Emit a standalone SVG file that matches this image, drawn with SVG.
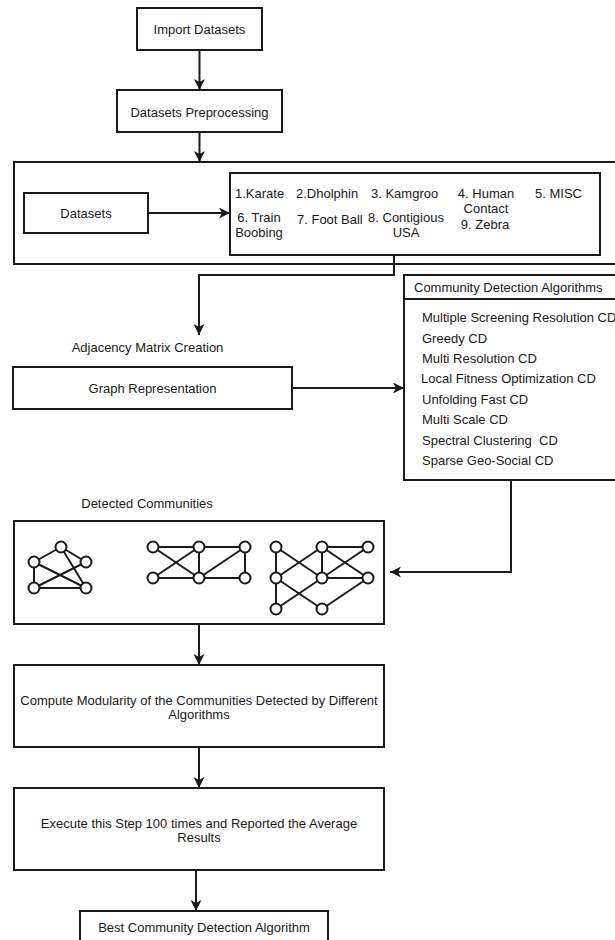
<svg xmlns="http://www.w3.org/2000/svg" width="615" height="940" viewBox="0 0 615 940">
<defs>
<style>
.box{fill:#fff;stroke:#1a1a1a;stroke-width:2}
.t{font-family:"Liberation Sans",Arial,sans-serif;font-size:13px;fill:#1a1a1a;dominant-baseline:central}
.c{text-anchor:middle}
.ln{fill:none;stroke:#1a1a1a;stroke-width:2}
.e{stroke:#1a1a1a;stroke-width:2}
.n{fill:#fff;stroke:#1a1a1a;stroke-width:2}
</style>
<marker id="ah" markerUnits="userSpaceOnUse" markerWidth="12" markerHeight="12" refX="11" refY="5.5" orient="auto">
<path d="M0,0 L11,5.5 L0,11 L3,5.5 z" fill="#1a1a1a"/>
</marker>
</defs>
<rect width="615" height="940" fill="#fff"/>

<g id="import">
<rect class="box" x="137" y="8" width="125" height="42"/>
<text class="t c" x="199.5" y="29">Import Datasets</text>
</g>
<g id="preprocessing">
<rect class="box" x="117" y="90" width="165" height="42"/>
<text class="t c" x="199.5" y="112">Datasets Preprocessing</text>
</g>
<g id="datasets-container">
<rect class="box" x="14" y="162" width="612" height="102"/>
</g>
<g id="datasets">
<rect class="box" x="24" y="193" width="124" height="40"/>
<text class="t c" x="86" y="213">Datasets</text>
</g>
<g id="dataset-list">
<rect class="box" x="230" y="173" width="370" height="82"/>
<text class="t" x="235" y="193">1.Karate</text>
<text class="t" x="296" y="193">2.Dholphin</text>
<text class="t" x="371" y="193">3. Kamgroo</text>
<text class="t c" x="486" y="193">4. Human</text>
<text class="t c" x="486" y="208">Contact</text>
<text class="t" x="535" y="193">5. MISC</text>
<text class="t c" x="259" y="217">6. Train</text>
<text class="t c" x="259" y="232">Boobing</text>
<text class="t" x="297" y="219">7. Foot Ball</text>
<text class="t c" x="406" y="217">8. Contigious</text>
<text class="t c" x="406" y="232">USA</text>
<text class="t c" x="485" y="224">9. Zebra</text>
</g>
<g id="adjacency-label">
<text class="t c" x="147.5" y="347">Adjacency Matrix Creation</text>
</g>
<g id="graph-representation">
<rect class="box" x="13" y="367" width="279" height="42"/>
<text class="t c" x="152.5" y="388">Graph Representation</text>
</g>
<g id="algorithms">
<rect class="box" x="404" y="275" width="225" height="205"/>
<line class="e" x1="404" y1="299" x2="629" y2="299"/>
<text class="t" x="414" y="287">Community Detection Algorithms</text>
<text class="t" x="422" y="317">Multiple Screening Resolution CD</text>
<text class="t" x="422" y="338">Greedy CD</text>
<text class="t" x="422" y="358">Multi Resolution CD</text>
<text class="t" x="421" y="378">Local Fitness Optimization CD</text>
<text class="t" x="422" y="399">Unfolding Fast CD</text>
<text class="t" x="422" y="419">Multi Scale CD</text>
<text class="t" x="422" y="440">Spectral Clustering&#160; CD</text>
<text class="t" x="422" y="460">Sparse Geo-Social CD</text>
</g>
<g id="detected-label">
<text class="t c" x="147" y="503">Detected Communities</text>
</g>
<g id="detected-communities">
<rect class="box" x="14" y="521" width="370" height="103"/>
<g id="graph1">
<line class="e" x1="61" y1="547" x2="34" y2="562"/>
<line class="e" x1="61" y1="547" x2="86" y2="562"/>
<line class="e" x1="61" y1="547" x2="86" y2="588"/>
<line class="e" x1="34" y1="562" x2="34" y2="588"/>
<line class="e" x1="34" y1="562" x2="86" y2="588"/>
<line class="e" x1="86" y1="562" x2="34" y2="588"/>
<line class="e" x1="34" y1="588" x2="86" y2="588"/>
<circle class="n" cx="61" cy="547" r="5.5"/>
<circle class="n" cx="34" cy="562" r="5.5"/>
<circle class="n" cx="86" cy="562" r="5.5"/>
<circle class="n" cx="34" cy="588" r="5.5"/>
<circle class="n" cx="86" cy="588" r="5.5"/>
</g>
<g id="graph2">
<line class="e" x1="153" y1="547" x2="245" y2="547"/>
<line class="e" x1="153" y1="578" x2="245" y2="578"/>
<line class="e" x1="153" y1="547" x2="199" y2="578"/>
<line class="e" x1="153" y1="578" x2="199" y2="547"/>
<line class="e" x1="199" y1="547" x2="199" y2="578"/>
<line class="e" x1="199" y1="578" x2="245" y2="547"/>
<line class="e" x1="245" y1="547" x2="245" y2="578"/>
<circle class="n" cx="153" cy="547" r="5.5"/>
<circle class="n" cx="199" cy="547" r="5.5"/>
<circle class="n" cx="245" cy="547" r="5.5"/>
<circle class="n" cx="153" cy="578" r="5.5"/>
<circle class="n" cx="199" cy="578" r="5.5"/>
<circle class="n" cx="245" cy="578" r="5.5"/>
</g>
<g id="graph3">
<line class="e" x1="276" y1="547" x2="276" y2="609"/>
<line class="e" x1="276" y1="547" x2="322" y2="578"/>
<line class="e" x1="276" y1="578" x2="322" y2="547"/>
<line class="e" x1="322" y1="547" x2="368" y2="547"/>
<line class="e" x1="322" y1="547" x2="322" y2="578"/>
<line class="e" x1="322" y1="547" x2="368" y2="578"/>
<line class="e" x1="322" y1="578" x2="368" y2="547"/>
<line class="e" x1="322" y1="578" x2="368" y2="578"/>
<line class="e" x1="276" y1="578" x2="322" y2="609"/>
<line class="e" x1="276" y1="609" x2="322" y2="578"/>
<line class="e" x1="322" y1="609" x2="368" y2="578"/>
<circle class="n" cx="276" cy="547" r="5.5"/>
<circle class="n" cx="322" cy="547" r="5.5"/>
<circle class="n" cx="368" cy="547" r="5.5"/>
<circle class="n" cx="276" cy="578" r="5.5"/>
<circle class="n" cx="322" cy="578" r="5.5"/>
<circle class="n" cx="368" cy="578" r="5.5"/>
<circle class="n" cx="276" cy="609" r="5.5"/>
<circle class="n" cx="322" cy="609" r="5.5"/>
</g>
</g>
<g id="compute">
<rect class="box" x="14" y="665" width="370" height="82"/>
<text class="t c" x="199" y="700">Compute Modularity of the Communities Detected by Different</text>
<text class="t c" x="199" y="714">Algorithms</text>
</g>
<g id="execute">
<rect class="box" x="14" y="788" width="370" height="82"/>
<text class="t c" x="199" y="823">Execute this Step 100 times and Reported the Average</text>
<text class="t c" x="199" y="837">Results</text>
</g>
<g id="best">
<rect class="box" x="80" y="911" width="248" height="40"/>
<text class="t c" x="204" y="927">Best Community Detection Algorithm</text>
</g>

<g id="connectors">
<line class="ln" x1="199.5" y1="50" x2="199.5" y2="90" marker-end="url(#ah)"/>
<line class="ln" x1="199.5" y1="132" x2="199.5" y2="162" marker-end="url(#ah)"/>
<line class="ln" x1="148" y1="213" x2="230" y2="213" marker-end="url(#ah)"/>
<path class="ln" d="M394,255 V275 H199 V335" marker-end="url(#ah)"/>
<line class="ln" x1="292" y1="388" x2="404" y2="388" marker-end="url(#ah)"/>
<path class="ln" d="M511,480 V572 H390" marker-end="url(#ah)"/>
<line class="ln" x1="199" y1="624" x2="199" y2="665" marker-end="url(#ah)"/>
<line class="ln" x1="199" y1="747" x2="199" y2="788" marker-end="url(#ah)"/>
<line class="ln" x1="196" y1="870" x2="196" y2="911" marker-end="url(#ah)"/>
</g>
</svg>
